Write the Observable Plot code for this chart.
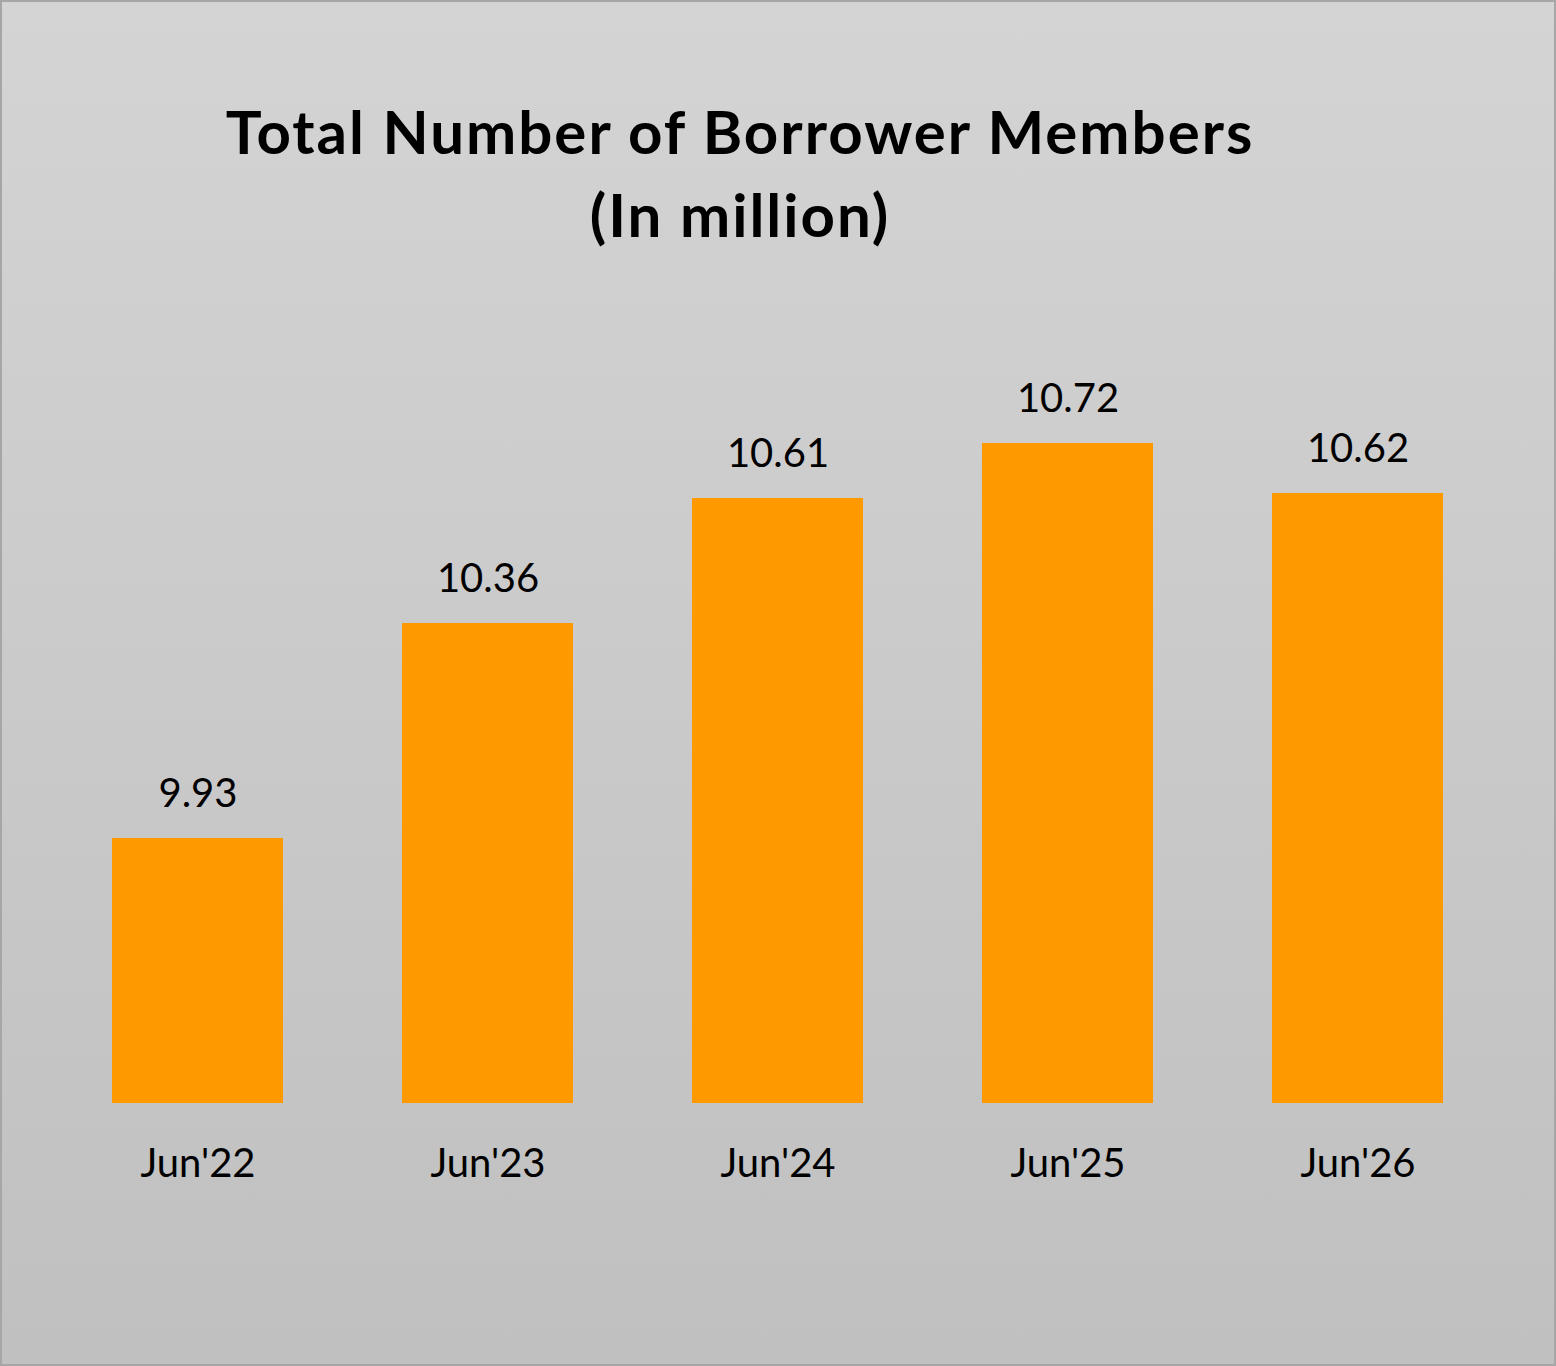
<!DOCTYPE html>
<html>
<head>
<meta charset="utf-8">
<script src="https://cdn.jsdelivr.net/npm/d3@7"></script>
<script src="https://cdn.jsdelivr.net/npm/@observablehq/plot@0.6"></script>
<style>
  html, body { margin: 0; padding: 0; }
  #frame {
    position: relative;
    width: 1556px;
    height: 1366px;
    background: linear-gradient(to bottom, #d4d4d4, #c0c0c0);
    box-shadow: inset 0 0 0 2px #a6a6a6;
    overflow: hidden;
    font-family: Lato, "Open Sans", sans-serif;
  }
  #title {
    position: absolute;
    top: 90px;
    left: 0;
    width: 1480px;
    text-align: center;
    font-weight: 700;
    font-size: 60px;
    letter-spacing: 2px;
    line-height: 83px;
    color: #000;
  }
  #chart {
    position: absolute;
    top: 300px;
    left: 0;
  }
</style>
</head>
<body>
<div id="frame">
  <div id="title">Total Number of Borrower Members<br>(In million)</div>
  <div id="chart"></div>
</div>
<script>
const categories = ["Jun'22", "Jun'23", "Jun'24", "Jun'25", "Jun'26"];
const values = [9.93, 10.36, 10.61, 10.72, 10.62];
const valueLabels = ["9.93", "10.36", "10.61", "10.72", "10.62"];

const data = categories.map((c, i) => ({category: c, value: values[i], label: valueLabels[i]}));

const chart = Plot.plot({
  width: 1556,
  height: 900,
  marginTop: 3,
  marginBottom: 97,
  marginLeft: 52.5,
  marginRight: 53.5,
  style: {background: "transparent", fontFamily: "Lato, 'Open Sans', sans-serif"},
  x: {domain: categories, paddingInner: 0.41, paddingOuter: 0.205, label: null},
  y: {domain: [9.4, 11.0], clamp: true, axis: null},
  marks: [
    Plot.barY(data, {x: "category", y: "value", fill: "#FF9900"}),
    Plot.text(data, {x: "category", y: "value", text: "label", lineAnchor: "bottom", dy: -32, fontSize: 40, fill: "#000"}),
    Plot.axisX({tickSize: 0, tickPadding: 45, fontSize: 40, color: "#000", label: null})
  ]
});
document.getElementById("chart").appendChild(chart);
</script>
</body>
</html>
